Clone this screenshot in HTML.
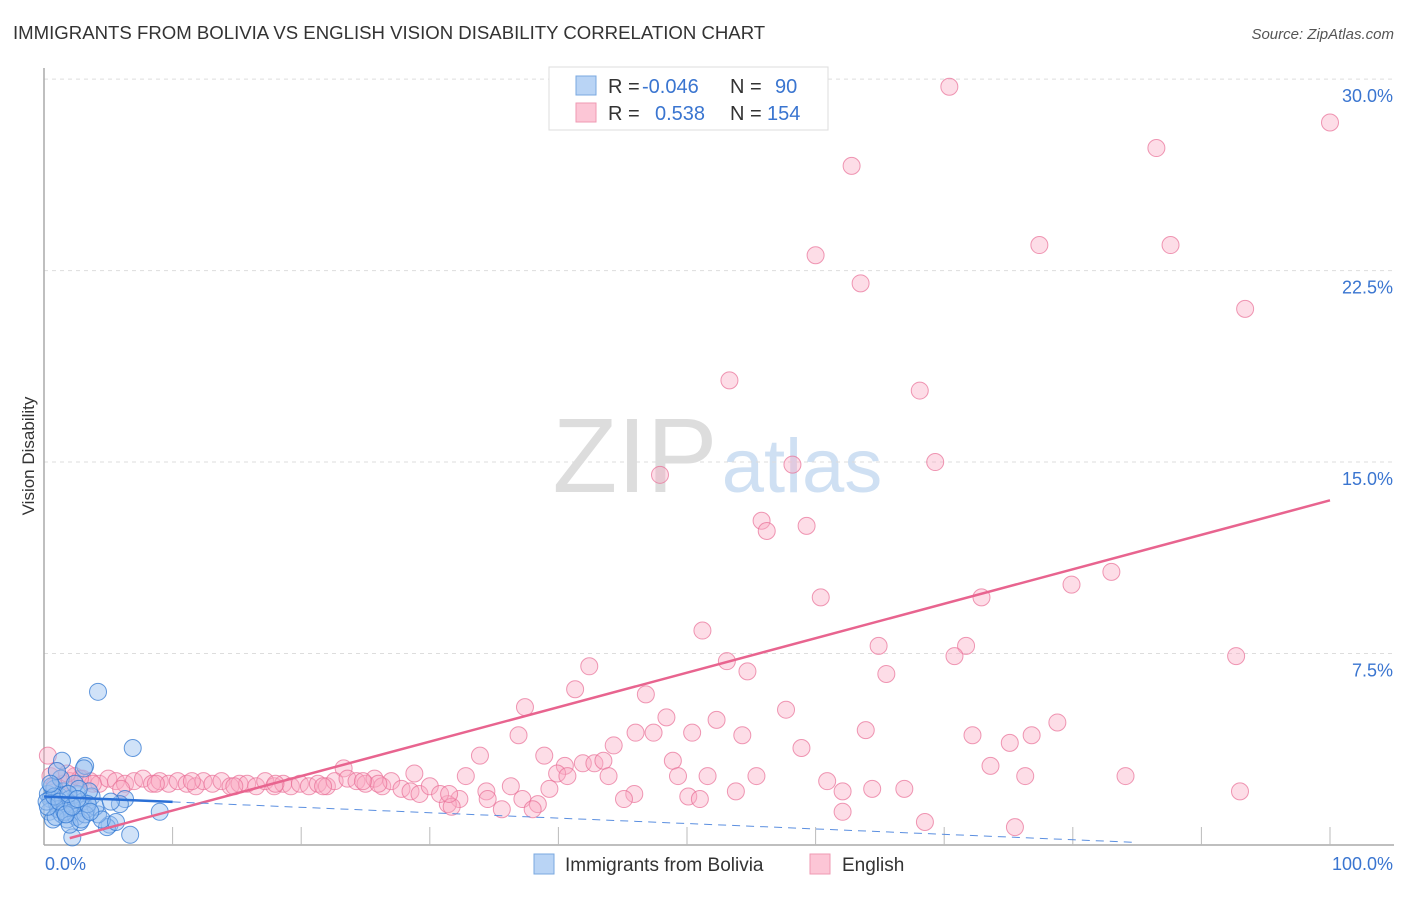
<!DOCTYPE html>
<html><head><meta charset="utf-8"><style>
body{margin:0;background:#fff;font-family:"Liberation Sans",sans-serif;}
svg text{font-family:"Liberation Sans",sans-serif;}
</style></head><body>
<svg width="1406" height="892" viewBox="0 0 1406 892">
<text x="13" y="39" font-size="18.6" fill="#333">IMMIGRANTS FROM BOLIVIA VS ENGLISH VISION DISABILITY CORRELATION CHART</text>
<text x="1394" y="39" font-size="15" fill="#555" font-style="italic" text-anchor="end">Source: ZipAtlas.com</text>
<text x="34" y="456" font-size="17" fill="#333" text-anchor="middle" transform="rotate(-90 34 456)">Vision Disability</text>
<g>
<text x="635" y="492" font-size="106" fill="#ddd" font-family="Liberation Serif,serif" text-anchor="middle">ZIP</text>
<text x="802" y="492" font-size="76" fill="#cfe0f3" text-anchor="middle">atlas</text>
</g>
<g id="grid"></g>
<g id="axes"></g>
<g id="pts"></g>
<g id="trend"></g>
<g>
<rect x="549" y="67" width="279" height="63" fill="#fff" stroke="#ddd"/>
<rect x="576" y="76" width="20" height="19" fill="#b9d4f5" stroke="#7aa8e0"/>
<rect x="576" y="103" width="20" height="19" fill="#fcc6d6" stroke="#ef9ab3"/>
<text x="608" y="93" font-size="20" fill="#333">R = </text>
<text x="642" y="93" font-size="20" fill="#3a75d0">-0.046</text>
<text x="730" y="93" font-size="20" fill="#333">N = </text>
<text x="775" y="93" font-size="20" fill="#3a75d0">90</text>
<text x="608" y="120" font-size="20" fill="#333">R = </text>
<text x="655" y="120" font-size="20" fill="#3a75d0">0.538</text>
<text x="730" y="120" font-size="20" fill="#333">N = </text>
<text x="767" y="120" font-size="20" fill="#3a75d0">154</text>
</g>
<g>
<rect x="534" y="854" width="20" height="20" fill="#b9d4f5" stroke="#7aa8e0"/>
<text x="565" y="871" font-size="19" fill="#333">Immigrants from Bolivia</text>
<rect x="810" y="854" width="20" height="20" fill="#fcc6d6" stroke="#ef9ab3"/>
<text x="842" y="871" font-size="19" fill="#333">English</text>
</g>
</svg>
<script>
const yTicks=[7.5,15,22.5,30];
const yTickLabels=["7.5%","15.0%","22.5%","30.0%"];
const xTickLabels=["0.0%","100.0%"];
const pinkX=[70.4,100,62.8,86.5,60.0,77.4,87.6,63.5,93.4,53.3,68.1,47.9,58.2,69.3,55.8,56.2,59.3,83.0,79.9,60.4,72.9,51.2,71.7,64.9,70.8,92.7,53.1,42.4,65.5,54.7,41.3,46.8,37.4,57.7,48.4,52.3,78.8,36.9,46.0,47.4,50.4,54.3,63.9,72.2,76.8,75.1,44.3,33.9,38.9,58.9,48.9,40.5,41.9,42.8,43.5,73.6,23.3,28.8,32.8,39.9,40.7,43.9,49.3,51.6,55.4,76.3,84.1,60.9,36.3,39.3,34.4,53.8,62.1,64.4,66.9,93.0,45.9,50.1,51.0,34.5,37.2,32.3,45.1,31.4,31.7,38.4,35.6,38.0,62.1,68.5,75.5,
0.3,0.5,1.0,2.4,1.5,2.0,3.0,3.6,4.3,5.0,5.6,6.3,7.0,7.7,8.4,9.0,9.7,10.4,11.1,11.8,12.4,13.1,13.8,14.5,15.2,15.8,16.5,17.2,17.9,18.6,19.2,19.9,20.6,21.3,22.0,22.6,23.6,24.3,25.0,25.7,26.3,27.0,27.8,28.5,29.2,30.0,30.8,31.5,26.0,24.8,21.7,18.0,14.8,11.5,8.7,6.0,3.8,2.8,1.8,0.8];
const pinkY=[29.7,28.3,26.6,27.3,23.1,23.5,23.5,22.0,21.0,18.2,17.8,14.5,14.9,15.0,12.7,12.3,12.5,10.7,10.2,9.7,9.7,8.4,7.8,7.8,7.4,7.4,7.2,7.0,6.7,6.8,6.1,5.9,5.4,5.3,5.0,4.9,4.8,4.3,4.4,4.4,4.4,4.3,4.5,4.3,4.3,4.0,3.9,3.5,3.5,3.8,3.3,3.1,3.2,3.2,3.3,3.1,3.0,2.8,2.7,2.8,2.7,2.7,2.7,2.7,2.7,2.7,2.7,2.5,2.3,2.2,2.1,2.1,2.1,2.2,2.2,2.1,2.0,1.9,1.8,1.8,1.8,1.8,1.8,1.6,1.5,1.6,1.4,1.4,1.3,0.9,0.7,
3.5,2.7,2.9,2.7,2.4,2.5,2.6,2.5,2.4,2.6,2.5,2.4,2.5,2.6,2.4,2.5,2.4,2.5,2.4,2.3,2.5,2.4,2.5,2.3,2.4,2.4,2.3,2.5,2.3,2.4,2.3,2.4,2.3,2.4,2.3,2.5,2.6,2.5,2.4,2.6,2.3,2.5,2.2,2.1,2.0,2.3,2.0,2.0,2.4,2.5,2.3,2.4,2.3,2.5,2.4,2.2,2.4,2.6,2.8,2.3];
const blueX=[4.2,6.9,1.4,3.2,6.3,5.9,9.0,6.7,5.1,4.9,2.2,4.2,0.3,0.5,0.8,1.0,1.2,1.5,1.7,2.0,2.3,2.6,3.0,3.3,3.7,4.0,0.4,0.7,1.1,1.4,1.8,2.1,2.5,2.8,3.2,3.5,0.2,0.6,0.9,1.3,1.6,2.0,2.4,2.9,3.4,0.3,0.8,1.2,1.7,2.2,2.7,3.1,4.5,5.2,5.6,1.0,1.9,2.6,3.6,0.5];
const blueY=[6.0,3.8,3.3,3.1,1.8,1.6,1.3,0.4,0.8,0.7,0.3,1.2,2.0,1.8,2.2,1.6,1.9,2.1,1.5,1.8,1.3,2.0,1.7,1.4,1.9,1.5,1.3,1.0,1.4,1.2,1.0,1.6,1.1,0.9,1.2,2.1,1.7,2.3,1.1,2.6,1.3,0.8,2.4,1.0,1.6,1.5,1.9,1.7,1.2,1.5,2.2,3.0,1.0,1.7,0.9,2.9,2.0,1.8,1.3,2.4];
const pinkTrend=[0.0,13.5];
const blueTrend=[1.9,0.1];
const X0=44,X1=1330,Y0=845,PX=25.53;
const sx=v=>X0+(X1-X0)*v/100, sy=v=>Y0-v*PX;
const NS="http://www.w3.org/2000/svg";
function mk(parent,tag,attrs){const e=document.createElementNS(NS,tag);for(const k in attrs)e.setAttribute(k,attrs[k]);document.getElementById(parent).appendChild(e);return e;}
yTicks.forEach((t,i)=>{
 const l=mk('grid','line',{x1:X0,x2:1394,y1:sy(t),y2:sy(t),stroke:'#ddd','stroke-dasharray':'4 4'});
 
 
 const tx=mk('grid','text',{x:1393,y:sy(t)+23,'font-size':18,fill:'#3a75d0','text-anchor':'end'});
 tx.textContent=yTickLabels[i];
 
 
});
const ya=mk('axes','line',{x1:X0,x2:X0,y1:68,y2:Y0,stroke:'#aaa','stroke-width':1.5});


const xa=mk('axes','line',{x1:X0,x2:1394,y1:Y0,y2:Y0,stroke:'#aaa','stroke-width':1.5});


for(let i=1;i<=10;i++){const t=mk('axes','line',{x1:sx(i*10),x2:sx(i*10),y1:Y0-18,y2:Y0,stroke:'#bbb'});
 
 }
const xl0=mk('axes','text',{x:45,y:870,'font-size':18,fill:'#3a75d0'});xl0.textContent=xTickLabels[0];


const xl1=mk('axes','text',{x:1393,y:870,'font-size':18,fill:'#3a75d0','text-anchor':'end'});xl1.textContent=xTickLabels[1];


pinkX.forEach((v,i)=>{const c=mk('pts','circle',{cx:sx(v),cy:sy(pinkY[i]),r:8.5,fill:'rgba(249,170,195,0.4)',stroke:'rgba(232,110,150,0.7)','stroke-width':1});
 
 });
blueX.forEach((v,i)=>{const c=mk('pts','circle',{cx:sx(v),cy:sy(blueY[i]),r:8.5,fill:'rgba(150,190,240,0.45)',stroke:'rgba(50,120,210,0.75)','stroke-width':1});
 
 });
const pt=mk('trend','line',{x1:sx(2),y1:sy(pinkTrend[0]+(pinkTrend[1]-pinkTrend[0])*0.02),x2:sx(100),y2:sy(pinkTrend[1]),stroke:'#e8648f','stroke-width':2.5});


const bAt=v=>blueTrend[0]+(blueTrend[1]-blueTrend[0])*v/85;
const bt=mk('trend','line',{x1:sx(0),y1:sy(bAt(0)),x2:sx(10),y2:sy(bAt(10)),stroke:'#2a6fd6','stroke-width':2.5});


const bd=mk('trend','line',{x1:sx(10),y1:sy(bAt(10)),x2:sx(85),y2:sy(bAt(85)),stroke:'#5b8fe0','stroke-width':1,'stroke-dasharray':'8 6'});


</script>
</body></html>
